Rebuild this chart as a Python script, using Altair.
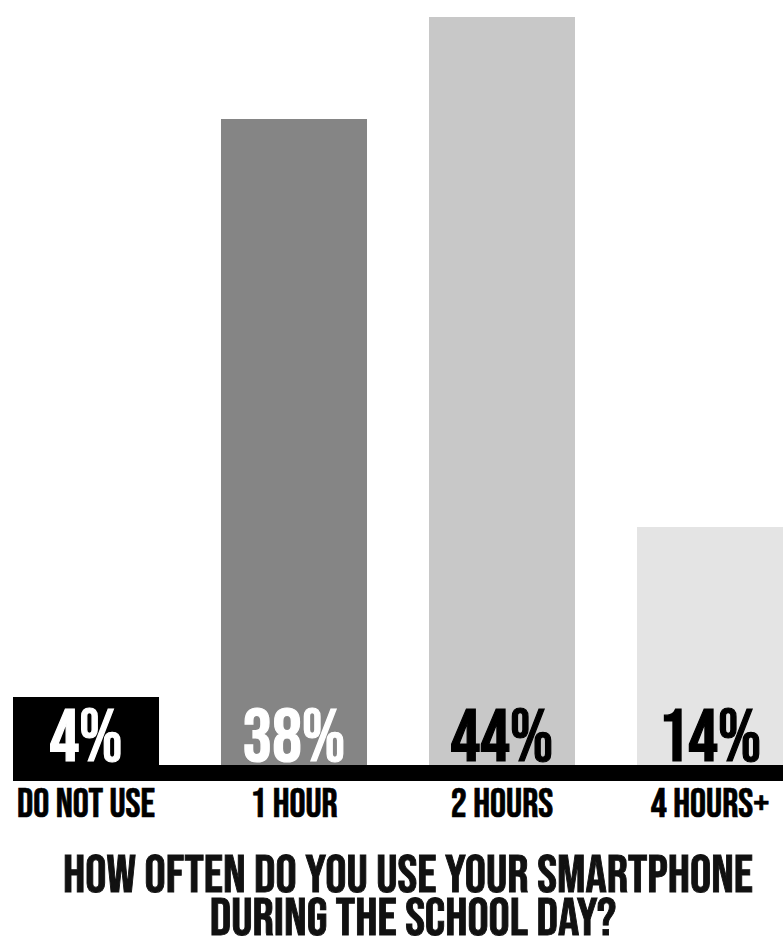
import altair as alt
import pandas as pd

categories = ["DO NOT USE", "1 HOUR", "2 HOURS", "4 HOURS+"]
values = [4, 38, 44, 14]
value_labels = ["4%", "38%", "44%", "14%"]
bar_colors = ["#000000", "#858585", "#c8c8c8", "#e4e4e4"]
label_colors = ["#ffffff", "#ffffff", "#000000", "#000000"]
title_lines = ["HOW OFTEN DO YOU USE YOUR SMARTPHONE", "DURING THE SCHOOL DAY?"]

FONT = "Bebas Neue"

df = pd.DataFrame({
    "cat": categories,
    "val": values,
    "label": value_labels,
    "label_color": label_colors,
})

xscale = alt.Scale(range=[13, 783], paddingInner=0.298, paddingOuter=0)
x = alt.X("cat:N", sort=categories, scale=xscale, axis=None)
xc = alt.X("cat:N", sort=categories, bandPosition=0.5, scale=xscale, axis=None)
y = alt.Y("val:Q", scale=alt.Scale(domain=[0, 45], range=[765, 0], nice=False, zero=True),
          axis=None)

base = alt.Chart(df)

bars = base.mark_bar().encode(
    x=x, y=y,
    color=alt.Color("cat:N", scale=alt.Scale(domain=categories, range=bar_colors), legend=None),
)

baseline = base.mark_rect(color="#000000").encode(
    x=alt.value(13), x2=alt.value(783), y=alt.value(765), y2=alt.value(781)
)

pct = base.mark_text(font=FONT, fontWeight="normal", fontSize=74, baseline="alphabetic",
                     align="center", strokeWidth=1.2).encode(
    x=xc,
    y=alt.value(761),
    text="label:N",
    color=alt.Color("label_color:N", scale=None),
    stroke=alt.Stroke("label_color:N", scale=None),
)

cat_labels = base.mark_text(font=FONT, fontWeight="normal", fontSize=40, baseline="alphabetic",
                            align="center", color="#000000", stroke="#000000",
                            strokeWidth=0.7).encode(
    x=xc,
    y=alt.value(817),
    text="cat:N",
)

title1 = alt.Chart(pd.DataFrame({"t": [title_lines[0]]})).mark_text(
    font=FONT, fontWeight="normal", fontSize=53, baseline="alphabetic", align="center",
    color="#111111", stroke="#111111", strokeWidth=0.9
).encode(x=alt.value(408), y=alt.value(892), text="t:N")

title2 = alt.Chart(pd.DataFrame({"t": [title_lines[1]]})).mark_text(
    font=FONT, fontWeight="normal", fontSize=53, baseline="alphabetic", align="center",
    color="#111111", stroke="#111111", strokeWidth=0.9
).encode(x=alt.value(413), y=alt.value(935), text="t:N")

chart = alt.layer(bars, baseline, pct, cat_labels, title1, title2).properties(
    width=783, height=938, padding=0,
    autosize=alt.AutoSizeParams(type="none"),
).configure_view(stroke=None)

chart.save("out.html", embed_options={"renderer": "svg", "actions": False})
